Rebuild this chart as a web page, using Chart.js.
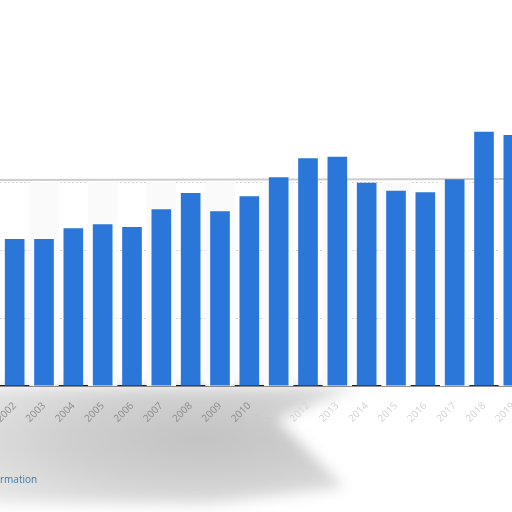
<!DOCTYPE html>
<html>
<head>
<meta charset="utf-8">
<script src="https://cdn.jsdelivr.net/npm/chart.js@4"></script>
<style>
  html, body { margin: 0; padding: 0; background: #fff; overflow: hidden; width: 512px; height: 512px; }
  #wrap { position: relative; width: 512px; height: 512px; overflow: hidden; }
  #blur { position: absolute; left: -20px; top: 386px; width: 420px; height: 124px; filter: blur(7px); }
  #smudge {
    position: absolute; left: 0; top: 0; width: 380px; height: 118px;
    background: radial-gradient(ellipse at 58% 45%, #c2c2c2 0%, #d0d0d0 45%, #e2e2e2 80%, #eeeeee 100%);
    clip-path: polygon(0 0, 100% 0, 78% 28%, 96% 86%, 60% 100%, 0 100%);
  }
  #myChart { position: absolute; left: 0; top: 0; }
  #info { position: absolute; left: 0; top: 472px; font: 10px "Open Sans", sans-serif; color: #3f7aa8; }
</style>
</head>
<body>
<div id="wrap">
  <div id="blur"><div id="smudge"></div></div>
  <canvas id="myChart" width="528" height="512"></canvas>
  <div id="info">rmation</div>
</div>
<script>
const years = ['2002', '2003', '2004', '2005', '2006', '2007', '2008', '2009', '2010',
               '2011', '2012', '2013', '2014', '2015', '2016', '2017', '2018', '2019'];
const values = [2.16, 2.16, 2.32, 2.38, 2.34, 2.60, 2.84, 2.57, 2.79,
                3.07, 3.35, 3.37, 2.99, 2.87, 2.85, 3.04, 3.74, 3.69];
const yTicks = [0, 1, 2, 3, 4];

const ctx = document.getElementById('myChart');

// faint stripes behind every second column, plus the grey top rule
const stripes = {
  id: 'stripes',
  beforeDatasetsDraw(chart) {
    const x = chart.scales.x, y = chart.scales.y;
    const c = chart.ctx;
    const w = x.width / years.length;
    const top = y.getPixelForValue(3), base = y.getPixelForValue(0);
    c.save();
    c.fillStyle = '#fafafa';
    years.forEach((yr, i) => {
      if (i % 2 === 1) {
        const cx = x.getPixelForValue(i);
        c.fillRect(cx - w / 2, top, w, base - top);
      }
    });
    c.strokeStyle = '#cdcdcd';
    c.lineWidth = 2;
    c.beginPath();
    c.moveTo(x.left, top - 2);
    c.lineTo(x.right, top - 3);
    c.stroke();
    c.restore();
  }
};

new Chart(ctx, {
  type: 'bar',
  data: {
    labels: years,
    datasets: [{
      data: values,
      backgroundColor: '#2b76d9',
      barPercentage: 0.67,
      categoryPercentage: 1
    }]
  },
  options: {
    responsive: false,
    animation: false,
    layout: { padding: { top: 114, left: 0, right: 0, bottom: 0 } },
    plugins: { legend: { display: false }, tooltip: { enabled: false } },
    scales: {
      x: {
        grid: { display: false },
        border: { color: '#222', width: 1.5 },
        ticks: {
          minRotation: 45,
          maxRotation: 45,
          padding: 6,
          color: (c) => c.index <= 8 ? '#8c8c8c' : '#d2d2d2',
          font: { family: 'Open Sans', size: 10 }
        },
        afterFit(s) {
          s.height = 126;
          s.paddingLeft = 0;
          s.paddingRight = 0;
        }
      },
      y: {
        min: 0,
        max: 4,
        afterBuildTicks(s) { s.ticks = yTicks.map(v => ({ value: v })); },
        ticks: { display: false },
        border: { display: false, dash: [2, 2] },
        grid: {
          drawTicks: false,
          color: (c) => (c.tick.value === 1 || c.tick.value === 2 || c.tick.value === 3) ? '#d4d4d4' : 'rgba(0,0,0,0)',
          lineWidth: 1
        },
        afterFit(s) { s.width = 0; }
      }
    }
  },
  plugins: [stripes]
});
</script>
</body>
</html>
